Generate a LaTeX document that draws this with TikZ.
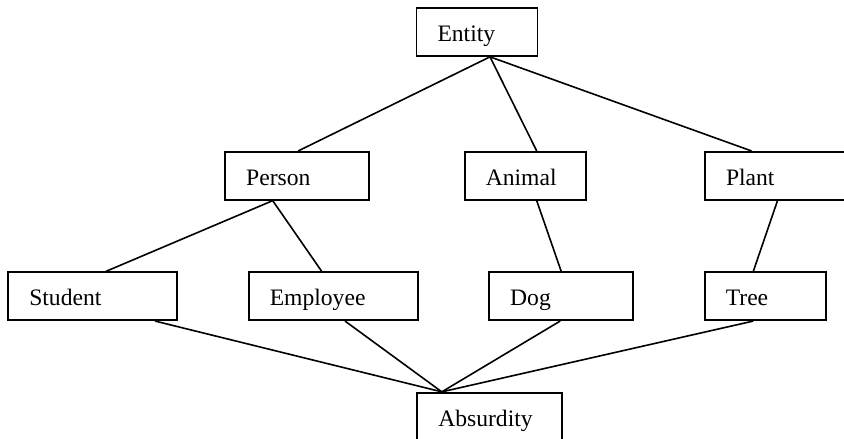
\documentclass[tikz,border=0pt]{standalone}
\usepackage{fontspec}
\setmainfont{Liberation Serif}
\begin{document}
\begin{tikzpicture}[x=1pt,y=-1pt,
    cls/.style={draw, line width=1.7pt, text width=#1, align=left,
      inner xsep=21pt, inner ysep=0pt, minimum height=48pt,
      text height=19pt, text depth=0pt,
      font=\fontsize{23.6}{28}\selectfont},
    edge/.style={line width=1.6pt}]
  \useasboundingbox (0,0) rectangle (844,439);
  \clip (0,0) rectangle (844,439);
  \node[cls=79pt] (entity) at (477,32) {Entity};
  \node[cls=102pt] (person) at (297.2,175.8) {Person};
  \node[cls=79pt] (animal) at (525.3,175.8) {Animal};
  \node[cls=103pt] (plant) at (777.5,175.8) {Plant};
  \node[cls=127pt] (student) at (92.8,296.2) {Student};
  \node[cls=127pt] (employee) at (333.3,296.2) {Employee};
  \node[cls=102pt] (dog) at (561.2,296.2) {Dog};
  \node[cls=79pt] (tree) at (765.3,296.2) {Tree};
  \node[cls=103pt] (absurdity) at (489.8,416.7) {Absurdity};
  \draw[edge] ([xshift=13]entity.south) -- ([xshift=1]person.north);
  \draw[edge] ([xshift=13]entity.south) -- ([xshift=11.4]animal.north);
  \draw[edge] ([xshift=13]entity.south) -- ([xshift=-26]plant.north);
  \draw[edge] ([xshift=-24.5]person.south) -- ([xshift=13.2]student.north);
  \draw[edge] ([xshift=-24.5]person.south) -- ([xshift=-11.6]employee.north);
  \draw[edge] ([xshift=11.4]animal.south) -- (dog.north);
  \draw[edge] (plant.south) -- ([xshift=-12]tree.north);
  \draw[edge] ([xshift=62.2]student.south) -- ([xshift=-48]absurdity.north);
  \draw[edge] ([xshift=11.7]employee.south) -- ([xshift=-48]absurdity.north);
  \draw[edge] ([xshift=-1]dog.south) -- ([xshift=-48]absurdity.north);
  \draw[edge] ([xshift=-12]tree.south) -- ([xshift=-48]absurdity.north);
\end{tikzpicture}
\end{document}
